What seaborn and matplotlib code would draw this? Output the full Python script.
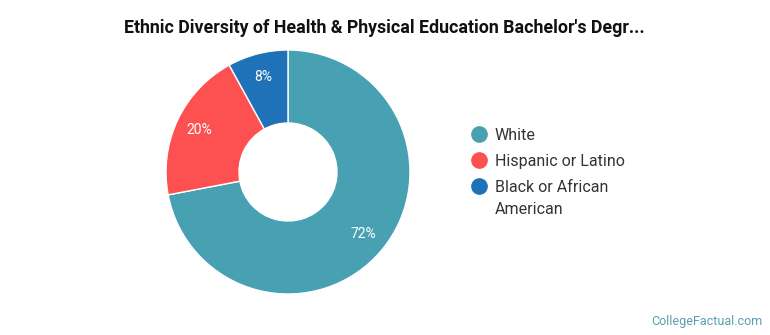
import matplotlib
matplotlib.use('Agg')
import matplotlib.pyplot as plt
from matplotlib.lines import Line2D
import seaborn as sns

groups = ['White', 'Hispanic or Latino', 'Black or African\nAmerican']
shares = [72, 20, 8]
colors = ['#48a0b3', '#fd5151', '#1f72b8']

sns.set_theme(style='white')
plt.rcParams['font.family'] = ['Roboto', 'DejaVu Sans']

fig = plt.figure(figsize=(7.7, 3.35), dpi=100)
W, H = 770, 335
cx, cy, r = 288, 172, 122
ax = fig.add_axes([(cx - r) / W, (H - cy - r) / H, 2 * r / W, 2 * r / H])

wedges, _, autotexts = ax.pie(
    shares, colors=colors, startangle=90, counterclock=False,
    autopct='%d%%', pctdistance=0.8, radius=1,
    wedgeprops=dict(width=1 - 49 / 122, edgecolor='white', linewidth=1),
    textprops=dict(color='white', fontsize=10))
ax.set_aspect('equal')
ax.set_xlim(-1, 1)
ax.set_ylim(-1, 1)
ax.axis('off')

fig.text(384 / W, 1 - 28 / H, "Ethnic Diversity of Health & Physical Education Bachelor's Degr...",
         ha='center', va='center', fontsize=12.8, fontweight='bold', color='#111111')

# legend drawn by hand so the row spacing matches
rows_y = [134, 160, 186]
for label, c, y in zip(groups, colors, rows_y):
    fig.add_artist(Line2D([479 / W], [1 - y / H], marker='o', linestyle='',
                          markersize=11, markerfacecolor=c, markeredgecolor=c,
                          transform=fig.transFigure))
    fig.text(495 / W, 1 - (y - 6) / H, label, ha='left', va='top',
             fontsize=11.5, color='#333333', linespacing=1.55)

fig.text(1 - 8 / W, 1 - 321 / H, 'CollegeFactual.com', ha='right', va='center',
         fontsize=9, color='#5a9fb0')

fig.savefig('out.png', dpi=100)
